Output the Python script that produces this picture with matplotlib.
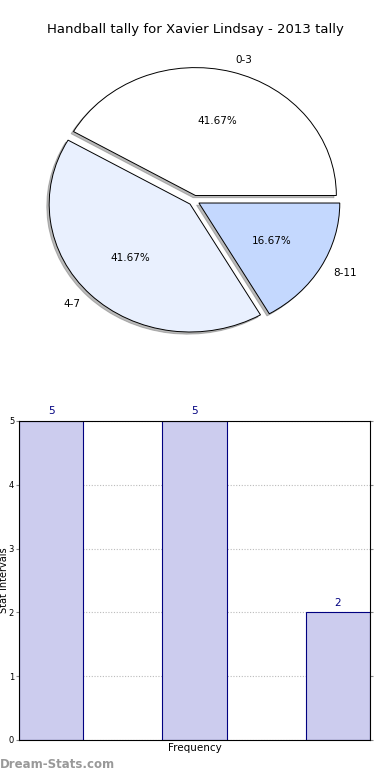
import matplotlib.pyplot as plt

# data
pie_labels = ["0-3", "4-7", "8-11"]
pie_values = [5, 5, 2]
pie_colors = ["#ffffff", "#e9f0fe", "#c4d8fe"]

bar_labels = ["0-3", "4-7", "8-11"]
bar_values = [5, 5, 2]

fig = plt.figure(figsize=(3.9, 7.8), dpi=100)
fig.text(0.5, 0.962, "Handball tally for Xavier Lindsay - 2013 tally",
         ha="center", va="center", fontsize=9.5)

# pie chart (elliptic, like old matplotlib without equal aspect)
ax1 = fig.add_axes([0.046, 0.538, 0.903, 0.410])
wedges, texts, autotexts = ax1.pie(
    pie_values, labels=pie_labels, colors=pie_colors, autopct="%1.2f%%",
    explode=[0.04] * len(pie_values),
    shadow={"ox": -0.012, "oy": -0.012, "color": "#777777"}, startangle=0,
    wedgeprops={"edgecolor": "black", "linewidth": 0.7},
    textprops={"fontsize": 7.5})
ax1.set_aspect("auto")
ax1.set_xlim(-1.25, 1.25)
ax1.set_ylim(-1.25, 1.25)
ax1.axis("off")

# bar chart
ax2 = fig.add_axes([0.0487, 0.0513, 0.9, 0.409])
x = range(len(bar_values))
w = 0.45
bars = ax2.bar(x, bar_values, width=w, color="#ccccee", edgecolor="#000080",
               linewidth=0.8, zorder=2)
for xi, v in zip(x, bar_values):
    ax2.text(xi, v + 0.07, str(v), ha="center", va="bottom",
             fontsize=7.5, color="#000080")
ax2.set_xlim(-w / 2, len(bar_values) - 1 + w / 2)
ax2.set_ylim(0, 5)
ax2.set_yticks(range(0, 6))
ax2.set_xticks([])
ax2.tick_params(axis="y", labelsize=6, length=2.5, pad=1, right=True, color="#888888")
ax2.yaxis.grid(True, linestyle=(0, (1, 1.5)), color="#bbbbbb", linewidth=0.8, zorder=0)
ax2.set_axisbelow(True)
ax2.set_xlabel("Frequency", fontsize=7.5, labelpad=2)
ax2.set_ylabel("Stat Intervals", fontsize=7)
ax2.yaxis.set_label_coords(-0.029, 0.5)

fig.text(0.0, 0.012, "Dream-Stats.com", ha="left", va="bottom",
         fontsize=8.5, color="#999999", fontweight="bold")

fig.savefig("out.png", dpi=100)
